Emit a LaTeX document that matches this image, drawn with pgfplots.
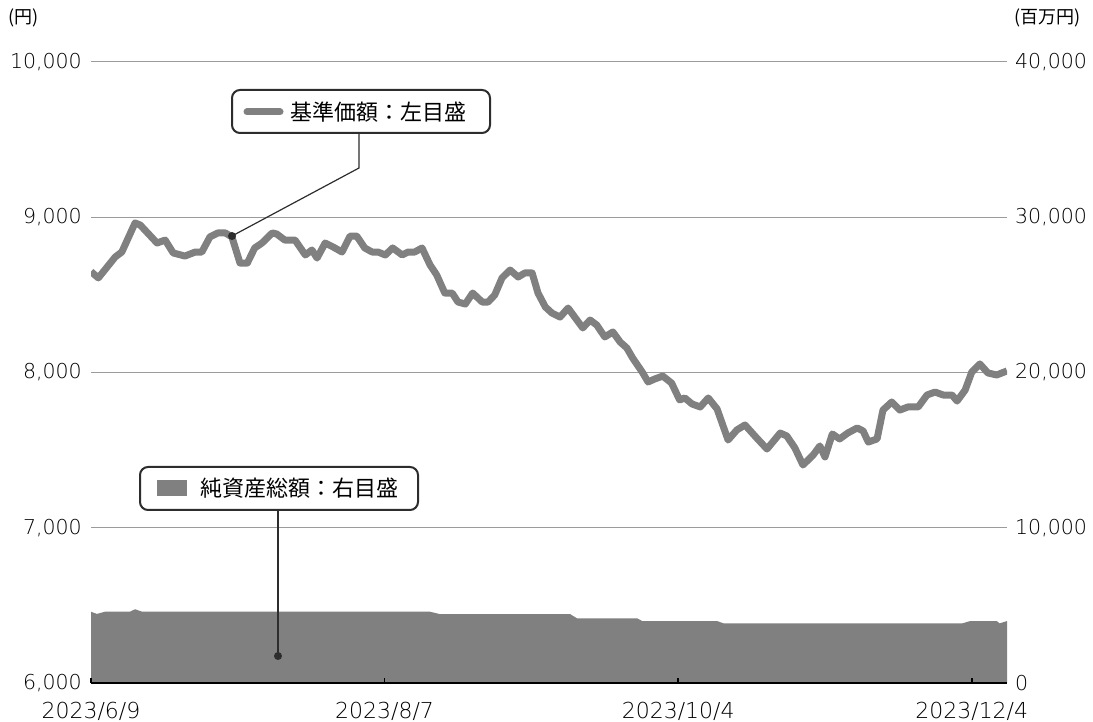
\documentclass[border=0pt]{standalone}
\usepackage{pgfplots}
\pgfplotsset{compat=1.18}
\usepackage{fontspec}
\setmainfont{Noto Sans CJK JP}
\newfontfamily\numfont{DejaVu Sans}[UprightFont={* ExtraLight}]
\definecolor{lg}{RGB}{128,128,128}
\definecolor{gridc}{RGB}{155,155,155}
\definecolor{dk}{RGB}{45,45,45}
\begin{document}
\begin{tikzpicture}[x=1pt,y=1pt]
\useasboundingbox (0pt,0pt) rectangle (1093pt,722pt);
\begin{axis}[at={(91pt,39pt)}, anchor=south west, width=916pt, height=621pt, scale only axis,
  xmin=0, xmax=124.8, ymin=0, ymax=40000,
  axis line style={draw=none}, xtick=\empty,
  ytick={0,10000,20000,30000,40000}, ytick pos=right, yticklabel pos=right,
  ytick style={draw=none},
  yticklabel style={anchor=west, inner sep=0pt, xshift=8pt, font=\numfont\fontsize{20.5}{25}\selectfont},
  /pgf/number format/assume math mode=true, /pgf/number format/1000 sep={,}, scaled y ticks=false]
\addplot[fill=lg, draw=none] coordinates {
(0,4590) (0.8,4450) (1.9,4590) (5.3,4590) (6.0,4750) (7.0,4590) (46.2,4590) (47.6,4430)
(65.3,4430) (66.2,4170) (74.4,4170) (75.1,3990) (85.3,3990) (86.2,3840) (118.7,3840)
(119.8,3990) (123.4,3990) (123.8,3840) (124.8,3990)} \closedcycle;
\end{axis}
\begin{axis}[name=main, at={(91pt,39pt)}, anchor=south west, width=916pt, height=621pt, scale only axis,
  xmin=0, xmax=124.8, ymin=6000, ymax=10000,
  axis line style={draw=none},
  xtick={0,40,80,120}, xticklabels={2023/6/9,2023/8/7,2023/10/4,2023/12/4},
  xtick pos=bottom, tick align=inside, xtick style={black, line width=1.5pt}, major tick length=5pt,
  ytick={6000,7000,8000,9000,10000}, ytick pos=left, ytick style={draw=none},
  ymajorgrids, grid style={gridc, line width=1pt},
  yticklabel style={anchor=east, inner sep=0pt, xshift=-9pt, font=\numfont\fontsize{20.5}{25}\selectfont},
  xticklabel style={anchor=north, inner sep=0pt, yshift=-19pt, font=\numfont\fontsize{22}{26}\selectfont},
  /pgf/number format/assume math mode=true, /pgf/number format/1000 sep={,}, scaled y ticks=false]
\addplot[lg, line width=7pt, line join=round] coordinates {
(0,8650) (1.0,8609) (3.3,8744) (4.2,8776) (6.0,8963) (6.7,8950) (9.0,8834) (10.1,8853)
(11.2,8770) (12.8,8750) (14.2,8776) (15.1,8776) (16.2,8873) (17.3,8899) (18.3,8899) (19.2,8873)
(20.3,8705) (21.3,8705) (22.3,8802) (23.3,8834) (24.7,8899) (25.3,8892) (26.4,8853) (27.8,8853)
(29.2,8757) (30.1,8789) (30.8,8737) (31.9,8834) (33.0,8808) (34.2,8776) (35.3,8879) (36.2,8879)
(37.3,8802) (38.3,8776) (39.1,8776) (40.1,8757) (41.1,8802) (42.4,8757) (43.2,8776) (44.1,8776)
(45.1,8802) (46.2,8692) (47.1,8628) (48.2,8512) (49.2,8512) (50.0,8454) (51.0,8441) (52.0,8512)
(53.3,8454) (54.1,8454) (55.0,8499) (56.0,8609) (57.1,8660) (58.2,8615) (59.1,8641) (60.1,8641)
(60.9,8512) (61.9,8422) (62.8,8383) (63.9,8357) (65.0,8415) (66.2,8338) (67.0,8287) (68.0,8338)
(68.9,8306) (70.0,8229) (71.1,8261) (72.1,8196) (73.0,8158) (73.8,8093) (75.1,8003) (75.9,7939)
(76.8,7958) (77.9,7977) (79.1,7932) (80.2,7823) (80.9,7836) (81.9,7797) (83.0,7778) (84.1,7836)
(85.3,7765) (86.8,7565) (88.0,7630) (89.1,7662) (90.7,7578) (92.1,7507) (93.9,7610) (94.8,7591)
(95.9,7514) (97.0,7404) (98.4,7469) (99.3,7527) (100.0,7456) (101.0,7604) (102.0,7572) (103.1,7610)
(104.4,7643) (105.2,7623) (105.9,7552) (107.1,7572) (107.9,7758) (109.1,7810) (110.2,7758) (111.3,7778)
(112.7,7778) (113.9,7855) (115.0,7874) (116.1,7855) (117.3,7855) (118.0,7816) (119.1,7887) (120.0,8003)
(121.1,8055) (122.2,7997) (123.4,7984) (124.8,8010)};
\end{axis}
\draw[black, line width=2pt] (main.south west) -- (main.south east);
\node[anchor=west, inner sep=0pt, font=\fontsize{18}{22}\selectfont] at (8pt,704pt) {(円)};
\node[anchor=west, inner sep=0pt, font=\fontsize{18}{22}\selectfont] at (1014pt,704pt) {(百万円)};
% annotation 1
\draw[dk, line width=1.2pt] (359pt,589pt) -- (359pt,554pt) -- (232pt,486pt);
\fill[dk] (232pt,486pt) circle (4pt);
\node[draw=dk, line width=2pt, rounded corners=8pt, fill=white, minimum width=258pt, minimum height=43pt, inner sep=0pt] at (361pt,610.5pt) {};
\draw[lg, line width=7pt, line cap=round] (247pt,610pt) -- (280pt,610pt);
\node[anchor=west, inner sep=0pt, font=\fontsize{22}{26}\selectfont] at (290pt,610pt) {基準価額：左目盛};
% annotation 2
\draw[dk, line width=1.2pt] (278pt,212pt) -- (278pt,66pt);
\fill[dk] (278pt,66pt) circle (4pt);
\node[draw=dk, line width=2pt, rounded corners=8pt, fill=white, minimum width=278pt, minimum height=43pt, inner sep=0pt] at (279pt,233.5pt) {};
\fill[lg] (157pt,226pt) rectangle (187pt,242pt);
\node[anchor=west, inner sep=0pt, font=\fontsize{22}{26}\selectfont] at (200pt,233.5pt) {純資産総額：右目盛};
\end{tikzpicture}
\end{document}
